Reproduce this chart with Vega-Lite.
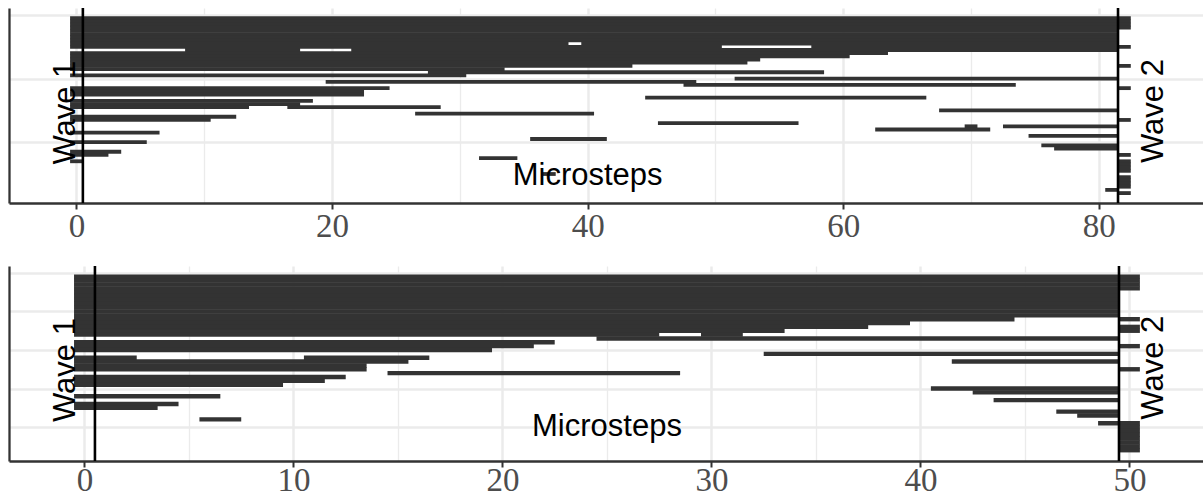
{
  "$schema": "https://vega.github.io/schema/vega-lite/v6.json",
  "padding": {"left": 9, "top": 6, "right": 0, "bottom": 0},
  "config": {
    "view": {"stroke": null},
    "text": {"font": "Liberation Sans", "fontSize": 31, "color": "black"}
  },
  "datasets": {
    "topSegs": [
      {"row": 1, "from": -0.5, "to": 82.5}, {"row": 2, "from": -0.5, "to": 82.5}, {"row": 3, "from": -0.5, "to": 82.5}, {"row": 4, "from": -0.5, "to": 82.5},
      {"row": 5, "from": -0.5, "to": 81.5}, {"row": 6, "from": -0.5, "to": 81.5}, {"row": 7, "from": -0.5, "to": 81.5}, {"row": 8, "from": -0.5, "to": 81.5},
      {"row": 9, "from": -0.5, "to": 38.5}, {"row": 9, "from": 39.5, "to": 81.5},
      {"row": 10, "from": -0.5, "to": 50.5}, {"row": 10, "from": 57.5, "to": 82.5},
      {"row": 11, "from": 8.5, "to": 17.5}, {"row": 11, "from": 21.5, "to": 81.5},
      {"row": 12, "from": -0.5, "to": 63.5},
      {"row": 13, "from": -0.5, "to": 60.5},
      {"row": 14, "from": -0.5, "to": 53.5},
      {"row": 15, "from": -0.5, "to": 52.5},
      {"row": 16, "from": -0.5, "to": 43.5}, {"row": 16, "from": 81.5, "to": 82.5},
      {"row": 17, "from": -0.5, "to": 33.5},
      {"row": 18, "from": 27.5, "to": 58.5},
      {"row": 19, "from": -0.5, "to": 30.5},
      {"row": 20, "from": 51.5, "to": 81.5},
      {"row": 21, "from": 19.5, "to": 48.5},
      {"row": 22, "from": 47.5, "to": 73.5},
      {"row": 23, "from": -0.5, "to": 24.5}, {"row": 23, "from": 81.5, "to": 82.5},
      {"row": 24, "from": -0.5, "to": 22.5},
      {"row": 25, "from": -0.5, "to": 22.5},
      {"row": 26, "from": 44.5, "to": 66.5},
      {"row": 27, "from": -0.5, "to": 18.5},
      {"row": 28, "from": -0.5, "to": 17.5},
      {"row": 29, "from": -0.5, "to": 13.5}, {"row": 29, "from": 16.5, "to": 28.5},
      {"row": 30, "from": 67.5, "to": 81.5},
      {"row": 31, "from": 26.5, "to": 40.5},
      {"row": 32, "from": -0.5, "to": 12.5},
      {"row": 33, "from": -0.5, "to": 10.5}, {"row": 33, "from": 81.5, "to": 82.5},
      {"row": 34, "from": 45.5, "to": 56.5},
      {"row": 35, "from": 69.5, "to": 70.5}, {"row": 35, "from": 72.5, "to": 81.5},
      {"row": 36, "from": 62.5, "to": 71.5},
      {"row": 37, "from": -0.5, "to": 6.5},
      {"row": 38, "from": 74.5, "to": 81.5},
      {"row": 39, "from": 35.5, "to": 41.5},
      {"row": 40, "from": -0.5, "to": 5.5},
      {"row": 41, "from": 75.5, "to": 81.5},
      {"row": 42, "from": 76.5, "to": 81.5},
      {"row": 43, "from": -0.5, "to": 3.5},
      {"row": 44, "from": -0.5, "to": 2.5}, {"row": 44, "from": 81.5, "to": 82.5},
      {"row": 45, "from": 31.5, "to": 34.5},
      {"row": 46, "from": -0.5, "to": 0.5}, {"row": 46, "from": 81.5, "to": 82.5},
      {"row": 47, "from": 81.5, "to": 82.5},
      {"row": 48, "from": 81.5, "to": 82.5},
      {"row": 49, "from": 81.5, "to": 82.5},
      {"row": 50, "from": 36.5, "to": 37.5},
      {"row": 51, "from": 81.5, "to": 82.5},
      {"row": 52, "from": 81.5, "to": 82.5},
      {"row": 53, "from": 81.5, "to": 82.5},
      {"row": 54, "from": 81.5, "to": 82.5},
      {"row": 55, "from": 80.5, "to": 81.5},
      {"row": 56, "from": 81.5, "to": 82.5}
    ],
    "botSegs": [
      {"row": 1, "from": -0.5, "to": 50.5}, {"row": 2, "from": -0.5, "to": 50.5}, {"row": 3, "from": -0.5, "to": 50.5}, {"row": 4, "from": -0.5, "to": 50.5},
      {"row": 5, "from": -0.5, "to": 49.5}, {"row": 6, "from": -0.5, "to": 49.5}, {"row": 7, "from": -0.5, "to": 49.5}, {"row": 8, "from": -0.5, "to": 49.5},
      {"row": 9, "from": -0.5, "to": 49.5}, {"row": 10, "from": -0.5, "to": 49.5}, {"row": 11, "from": -0.5, "to": 49.5},
      {"row": 12, "from": -0.5, "to": 44.5}, {"row": 12, "from": 49.5, "to": 50.5},
      {"row": 13, "from": -0.5, "to": 39.5},
      {"row": 14, "from": -0.5, "to": 37.5}, {"row": 14, "from": 49.5, "to": 50.5},
      {"row": 15, "from": -0.5, "to": 33.5}, {"row": 15, "from": 49.5, "to": 50.5},
      {"row": 16, "from": -0.5, "to": 27.5}, {"row": 16, "from": 29.5, "to": 31.5},
      {"row": 17, "from": 24.5, "to": 49.5},
      {"row": 18, "from": -0.5, "to": 22.5},
      {"row": 19, "from": -0.5, "to": 21.5}, {"row": 19, "from": 49.5, "to": 50.5},
      {"row": 20, "from": -0.5, "to": 19.5},
      {"row": 21, "from": 32.5, "to": 49.5},
      {"row": 22, "from": -0.5, "to": 2.5}, {"row": 22, "from": 10.5, "to": 16.5},
      {"row": 23, "from": -0.5, "to": 15.5}, {"row": 23, "from": 41.5, "to": 49.5},
      {"row": 24, "from": -0.5, "to": 13.5},
      {"row": 25, "from": -0.5, "to": 13.5}, {"row": 25, "from": 49.5, "to": 50.5},
      {"row": 26, "from": 14.5, "to": 28.5},
      {"row": 27, "from": -0.5, "to": 12.5},
      {"row": 28, "from": -0.5, "to": 11.5},
      {"row": 29, "from": -0.5, "to": 9.5},
      {"row": 30, "from": 40.5, "to": 49.5},
      {"row": 31, "from": 42.5, "to": 49.5},
      {"row": 32, "from": -0.5, "to": 6.5},
      {"row": 33, "from": 43.5, "to": 49.5},
      {"row": 34, "from": -0.5, "to": 4.5},
      {"row": 35, "from": -0.5, "to": 3.5},
      {"row": 36, "from": 46.5, "to": 49.5},
      {"row": 37, "from": 47.5, "to": 49.5},
      {"row": 38, "from": 5.5, "to": 7.5},
      {"row": 39, "from": 48.5, "to": 50.5},
      {"row": 40, "from": 49.5, "to": 50.5}, {"row": 41, "from": 49.5, "to": 50.5}, {"row": 42, "from": 49.5, "to": 50.5},
      {"row": 43, "from": 49.5, "to": 50.5}, {"row": 44, "from": 49.5, "to": 50.5}, {"row": 45, "from": 49.5, "to": 50.5},
      {"row": 46, "from": 49.5, "to": 50.5}
    ],
    "topLines": [{"x": 0.5}, {"x": 81.5}],
    "botLines": [{"x": 0.5}, {"x": 49.5}],
    "topWave": [{"label": "Wave 1", "x": -0.12, "y": 30.7}, {"label": "Wave 2", "x": 85.04, "y": 30.2}],
    "botWave": [{"label": "Wave 1", "x": -0.45, "y": 25.2}, {"label": "Wave 2", "x": 51.6, "y": 24.6}],
    "topMicro": [{"label": "Microsteps", "x": 40, "y": 53.55}],
    "botMicro": [{"label": "Microsteps", "x": 25, "y": 42.3}]
  },
  "vconcat": [
    {
      "width": 1194,
      "height": 195,
      "layer": [
        {
          "data": {"name": "topSegs"},
          "mark": {"type": "rule", "color": "#333333", "strokeWidth": 3.8, "strokeCap": "butt"},
          "encoding": {
            "x": {"field": "from", "type": "quantitative",
              "scale": {"domain": [-5.28, 88.15], "nice": false, "zero": false},
              "axis": {"title": null, "values": [0, 10, 20, 30, 40, 50, 60, 70, 80],
                "labelExpr": "datum.value % 20 === 0 ? datum.label : ''",
                "grid": true, "gridColor": "#EBEBEB",
                "gridWidth": {"condition": {"test": "datum.value % 20 === 0", "value": 2.5}, "value": 1.3},
                "ticks": true, "tickSize": 6, "tickWidth": 2,
                "tickColor": {"condition": {"test": "datum.value % 20 === 0", "value": "#333333"}, "value": "transparent"},
                "domain": true, "domainColor": "#333333", "domainWidth": 2.3,
                "labelFont": "Liberation Serif", "labelFontSize": 33, "labelColor": "#4D4D4D",
                "labelPadding": 1, "labelFlush": false, "labelOverlap": false}},
            "x2": {"field": "to"},
            "y": {"field": "row", "type": "quantitative",
              "scale": {"domain": [-2.2, 59.12], "reverse": true, "nice": false, "zero": false},
              "axis": {"title": null, "values": [0, 10, 20, 30, 40, 50], "labels": false, "ticks": false,
                "grid": true, "gridColor": "#EBEBEB",
                "gridWidth": {"condition": {"test": "datum.value % 20 === 0", "value": 2.5}, "value": 1.3},
                "domain": true, "domainColor": "#333333", "domainWidth": 2.3}}
          }
        },
        {
          "data": {"name": "topLines"},
          "mark": {"type": "rule", "color": "black", "strokeWidth": 2.6},
          "encoding": {"x": {"field": "x", "type": "quantitative"}}
        },
        {
          "mark": {"type": "rule", "color": "#333333", "strokeWidth": 2.3},
          "encoding": {"y": {"datum": -2.2, "type": "quantitative"}}
        },
        {
          "data": {"name": "topWave"},
          "mark": {"type": "text", "angle": -90, "align": "center", "baseline": "alphabetic"},
          "encoding": {"x": {"field": "x", "type": "quantitative"}, "y": {"field": "y", "type": "quantitative"}, "text": {"field": "label"}}
        },
        {
          "data": {"name": "topMicro"},
          "mark": {"type": "text", "align": "center", "baseline": "alphabetic"},
          "encoding": {"x": {"field": "x", "type": "quantitative"}, "y": {"field": "y", "type": "quantitative"}, "text": {"field": "label"}}
        }
      ]
    },
    {
      "width": 1194,
      "height": 195,
      "layer": [
        {
          "data": {"name": "botSegs"},
          "mark": {"type": "rule", "color": "#333333", "strokeWidth": 4.4, "strokeCap": "butt"},
          "encoding": {
            "x": {"field": "from", "type": "quantitative",
              "scale": {"domain": [-3.612, 53.52], "nice": false, "zero": false},
              "axis": {"title": null, "values": [0, 5, 10, 15, 20, 25, 30, 35, 40, 45, 50],
                "labelExpr": "datum.value % 10 === 0 ? datum.label : ''",
                "grid": true, "gridColor": "#EBEBEB",
                "gridWidth": {"condition": {"test": "datum.value % 10 === 0", "value": 2.5}, "value": 1.3},
                "ticks": true, "tickSize": 6, "tickWidth": 2,
                "tickColor": {"condition": {"test": "datum.value % 10 === 0", "value": "#333333"}, "value": "transparent"},
                "domain": true, "domainColor": "#333333", "domainWidth": 2.3,
                "labelFont": "Liberation Serif", "labelFontSize": 33, "labelColor": "#4D4D4D",
                "labelPadding": -3, "labelFlush": false, "labelOverlap": false}},
            "x2": {"field": "to"},
            "y": {"field": "row", "type": "quantitative",
              "scale": {"domain": [-1.8, 48.8], "reverse": true, "nice": false, "zero": false},
              "axis": {"title": null, "values": [0, 5, 10, 15, 20, 25, 30, 35, 40, 45], "labels": false, "ticks": false,
                "grid": true, "gridColor": "#EBEBEB",
                "gridWidth": {"condition": {"test": "datum.value % 10 === 0", "value": 2.5}, "value": 1.3},
                "domain": true, "domainColor": "#333333", "domainWidth": 2.3}}
          }
        },
        {
          "data": {"name": "botLines"},
          "mark": {"type": "rule", "color": "black", "strokeWidth": 2.6},
          "encoding": {"x": {"field": "x", "type": "quantitative"}}
        },
        {
          "mark": {"type": "rule", "color": "#333333", "strokeWidth": 2.3},
          "encoding": {"y": {"datum": -1.8, "type": "quantitative"}}
        },
        {
          "data": {"name": "botWave"},
          "mark": {"type": "text", "angle": -90, "align": "center", "baseline": "alphabetic"},
          "encoding": {"x": {"field": "x", "type": "quantitative"}, "y": {"field": "y", "type": "quantitative"}, "text": {"field": "label"}}
        },
        {
          "data": {"name": "botMicro"},
          "mark": {"type": "text", "align": "center", "baseline": "alphabetic"},
          "encoding": {"x": {"field": "x", "type": "quantitative"}, "y": {"field": "y", "type": "quantitative"}, "text": {"field": "label"}}
        }
      ]
    }
  ],
  "spacing": 63,
  "bounds": "flush"
}
